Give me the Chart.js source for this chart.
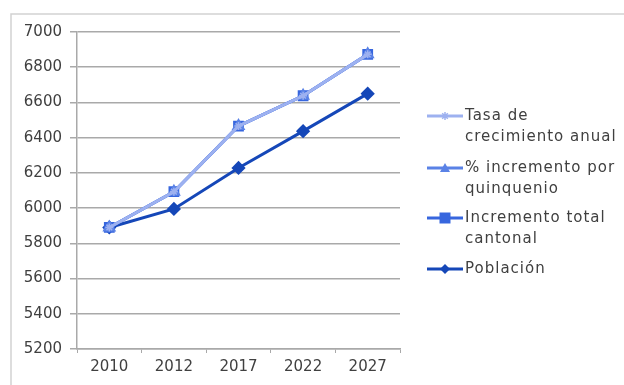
<!DOCTYPE html>
<html>
<head>
<meta charset="utf-8">
<script src="https://cdn.jsdelivr.net/npm/chart.js@4/dist/chart.umd.min.js"></script>
<style>
  html, body { margin: 0; padding: 0; background: #ffffff; overflow: hidden; }
  #wrap { position: relative; width: 624px; height: 385px; }
</style>
</head>
<body>
<div id="wrap"><canvas id="c" width="624" height="385"></canvas></div>
<script>
// Years on the category axis
const years = ['2010', '2012', '2017', '2022', '2027'];

// Series values
const tasaCrecimiento = [5890, 6093, 6466, 6638, 6873];
const incrementoQuinquenio = [5890, 6093, 6466, 6638, 6873];
const incrementoTotal = [5890, 6093, 6466, 6638, 6873];
const poblacion = [5890, 5995, 6228, 6437, 6650];

// Legend text, split into the lines it is printed on
const legendLines = [
  ['Tasa de', 'crecimiento anual'],
  ['% incremento por', 'quinquenio'],
  ['Incremento total', 'cantonal'],
  ['Población']
];

// Y axis range
const yMin = 5200, yMax = 7000, yStep = 200;

const FONT = '"DejaVu Sans", sans-serif';
const TEXT = '#404040';
const GRID = '#a9a9a9';

const colors = {
  tasa: '#9db1f0',
  quinq: '#5a82e6',
  total: '#3766de',
  pob: '#1547b8'
};

function drawMarker(ctx, style, x, y, r, fill, stroke) {
  ctx.save();
  ctx.fillStyle = fill;
  ctx.strokeStyle = stroke;
  ctx.lineWidth = 1.5;
  ctx.beginPath();
  if (style === 'rect') {
    ctx.rect(x - r, y - r, 2 * r, 2 * r);
    ctx.fill();
  } else if (style === 'rectRot') {
    ctx.moveTo(x, y - r); ctx.lineTo(x + r, y); ctx.lineTo(x, y + r); ctx.lineTo(x - r, y);
    ctx.closePath(); ctx.fill();
  } else if (style === 'triangle') {
    ctx.moveTo(x, y - r); ctx.lineTo(x + r, y + r * 0.8); ctx.lineTo(x - r, y + r * 0.8);
    ctx.closePath(); ctx.fill();
  } else if (style === 'star') {
    ctx.moveTo(x - r, y); ctx.lineTo(x + r, y);
    ctx.moveTo(x, y - r); ctx.lineTo(x, y + r);
    ctx.moveTo(x - r * 0.7, y - r * 0.7); ctx.lineTo(x + r * 0.7, y + r * 0.7);
    ctx.moveTo(x - r * 0.7, y + r * 0.7); ctx.lineTo(x + r * 0.7, y - r * 0.7);
    ctx.stroke();
  }
  ctx.restore();
}

// Frame edges (left and top) and the side legend
const framePlugin = {
  id: 'frame',
  beforeDraw(chart) {
    const ctx = chart.ctx;
    ctx.save();
    ctx.strokeStyle = '#d2d2d2';
    ctx.lineWidth = 1.5;
    ctx.beginPath();
    ctx.moveTo(11, 385);
    ctx.lineTo(11, 14);
    ctx.lineTo(624, 14);
    ctx.stroke();
    ctx.restore();
  },
  afterDraw(chart) {
    const ctx = chart.ctx;
    const area = chart.chartArea;
    const x0 = area.right + 27, x1 = x0 + 36, tx = x1 + 2;
    const entryY = [116, 168, 218, 269];
    const lineGap = 21;
    ctx.save();
    ctx.font = '15px ' + FONT;
    if ('letterSpacing' in ctx) ctx.letterSpacing = '1px';
    ctx.textBaseline = 'middle';
    ctx.textAlign = 'left';
    chart.data.datasets.forEach((ds, i) => {
      const y = entryY[i];
      ctx.strokeStyle = ds.borderColor;
      ctx.lineWidth = 3;
      ctx.beginPath();
      ctx.moveTo(x0, y); ctx.lineTo(x1, y);
      ctx.stroke();
      drawMarker(ctx, ds.pointStyle, (x0 + x1) / 2, y, ds.pointRadius,
        ds.pointBackgroundColor, ds.pointBorderColor);
      ctx.fillStyle = TEXT;
      legendLines[i].forEach((t, k) => ctx.fillText(t, tx, y + k * lineGap));
    });
    ctx.restore();
  }
};

new Chart(document.getElementById('c'), {
  type: 'line',
  data: {
    labels: years,
    datasets: [
      {
        label: 'Tasa de crecimiento anual',
        data: tasaCrecimiento,
        borderColor: colors.tasa,
        backgroundColor: colors.tasa,
        pointStyle: 'star',
        pointRadius: 4,
        pointBackgroundColor: colors.tasa,
        pointBorderColor: colors.tasa,
        pointBorderWidth: 1.5,
        borderWidth: 3
      },
      {
        label: '% incremento por quinquenio',
        data: incrementoQuinquenio,
        borderColor: colors.quinq,
        backgroundColor: colors.quinq,
        pointStyle: 'triangle',
        pointRadius: 5,
        pointBackgroundColor: colors.quinq,
        pointBorderColor: colors.quinq,
        borderWidth: 3
      },
      {
        label: 'Incremento total cantonal',
        data: incrementoTotal,
        borderColor: colors.total,
        backgroundColor: colors.total,
        pointStyle: 'rect',
        pointRadius: 5.5,
        pointBackgroundColor: colors.total,
        pointBorderColor: colors.total,
        borderWidth: 3
      },
      {
        label: 'Población',
        data: poblacion,
        borderColor: colors.pob,
        backgroundColor: colors.pob,
        pointStyle: 'rectRot',
        pointRadius: 5,
        pointBackgroundColor: colors.pob,
        pointBorderColor: colors.pob,
        borderWidth: 3
      }
    ]
  },
  options: {
    responsive: false,
    animation: false,
    layout: { padding: { left: 0, right: 224, top: 32, bottom: 0 } },
    plugins: {
      legend: { display: false },
      tooltip: { enabled: false }
    },
    elements: { line: { tension: 0 } },
    scales: {
      x: {
        offset: true,
        grid: {
          offset: true,
          drawOnChartArea: false,
          drawTicks: true,
          tickLength: 4,
          color: GRID
        },
        border: { color: GRID, width: 1.5 },
        ticks: { color: TEXT, font: { family: FONT, size: 15 }, padding: 5, maxRotation: 0 },
        afterFit(scale) { scale.height = 385 - 349; }
      },
      y: {
        min: yMin,
        max: yMax,
        grid: { color: GRID, lineWidth: 1.5, tickLength: 7, drawTicks: true },
        border: { color: GRID, width: 1.5 },
        ticks: {
          stepSize: yStep,
          color: TEXT,
          font: { family: FONT, size: 15 },
          padding: 8,
          callback: (v) => String(v)
        },
        afterFit(scale) { scale.width = 77; }
      }
    }
  },
  plugins: [framePlugin]
});
</script>
</body>
</html>
